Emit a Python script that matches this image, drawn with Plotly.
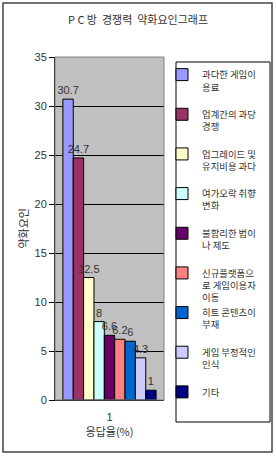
import plotly.graph_objects as go

categories = ["1"]
names = ["과다한 게임이<br>용료", "업계간의 과당<br>경쟁", "업그레이드 및<br>유지비용 과다",
         "여가오락 취향<br>변화", "불합리한 법이<br>나 제도", "신규플랫폼으<br>로 게임이용자<br>이동",
         "히트 콘텐츠이<br>부재", "게임 부정적인<br>인식", "기타"]
values = [30.7, 24.7, 12.5, 8, 6.6, 6.2, 6, 4.3, 1]
labels = ["30.7", "24.7", "12.5", "8", "6.6", "6.2", "6", "4.3", "1"]
colors = ["#9999FF", "#993366", "#FFFFCC", "#CCFFFF", "#660066", "#FF8080", "#0066CC", "#CCCCFF", "#000080"]

W, H = 276, 465
L, R, T, B = 55, 112, 57, 65
pw, ph = W - L - R, H - T - B

def px(x):
    return (x - L) / pw

def py(y):
    return 1 - (y - T) / ph

font = "Noto Sans CJK KR, Noto Sans, sans-serif"

fig = go.Figure()
for n, v, lab, c in zip(names, values, labels, colors):
    nm = n if n.count("<br>") == 2 else n + "<br> " * (2 - n.count("<br>"))
    fig.add_trace(go.Bar(
        x=categories, y=[v], name=nm, text=[lab], textposition="outside",
        textfont=dict(size=11, color="#333333", family="Arial"),
        constraintext="none",
        marker=dict(color=c, line=dict(color="black", width=1)),
        cliponaxis=False, legendgroup=n,
    ))

shapes = [
    dict(type="rect", xref="paper", yref="paper", x0=px(3), x1=px(272), y0=py(452), y1=py(3),
         line=dict(color="#444444", width=1.5), fillcolor="rgba(0,0,0,0)", layer="below"),
    dict(type="rect", xref="paper", yref="paper", x0=px(176), x1=px(270), y0=py(422), y1=py(62),
         line=dict(color="black", width=1), fillcolor="white", layer="below"),
    dict(type="rect", xref="paper", yref="paper", x0=0, x1=1, y0=0, y1=1,
         line=dict(color="#808080", width=1), fillcolor="rgba(0,0,0,0)"),
]

fig.update_layout(
    width=W, height=H,
    margin=dict(l=L, r=R, t=T, b=B, pad=0),
    paper_bgcolor="white", plot_bgcolor="#C0C0C0",
    barmode="group", bargap=0.145, bargroupgap=0,
    font=dict(family=font, size=11, color="#333333"),
    title=dict(text="P C 방  경쟁력  약화요인그래프", x=0.5, xref="container", xanchor="center",
               y=1 - 20 / H, yanchor="middle", font=dict(size=11, color="#333333"),
               pad=dict(l=0, r=0, t=0, b=0)),
    showlegend=True,
    legend=dict(x=px(162), y=py(62), xanchor="left", yanchor="top",
                bgcolor="rgba(0,0,0,0)", borderwidth=0, tracegroupgap=0,
                font=dict(size=9.4, color="#333333", family=font), valign="top",
                itemwidth=30, maxheight=500),
    xaxis=dict(showgrid=False, showline=True, linecolor="black", ticks="outside",
               ticklen=7, tickcolor="rgba(0,0,0,0)",
               tickfont=dict(size=11, family="Arial", color="#333333"),
               title=dict(text="응답율(%)", font=dict(size=11), standoff=6)),
    yaxis=dict(range=[0, 35], dtick=5, showgrid=True, gridcolor="black", gridwidth=1,
               showline=True, linecolor="black", ticks="outside", ticklen=5, tickcolor="black",
               tickfont=dict(size=11, family="Arial", color="#333333"),
               zeroline=False),
    shapes=shapes,
)
fig.add_annotation(text="약화요인", textangle=-90, xref="paper", yref="paper",
                   x=px(22), y=0.5, xanchor="center", yanchor="middle", showarrow=False,
                   font=dict(size=11, color="#333333"))
fig.write_html("out.html")
